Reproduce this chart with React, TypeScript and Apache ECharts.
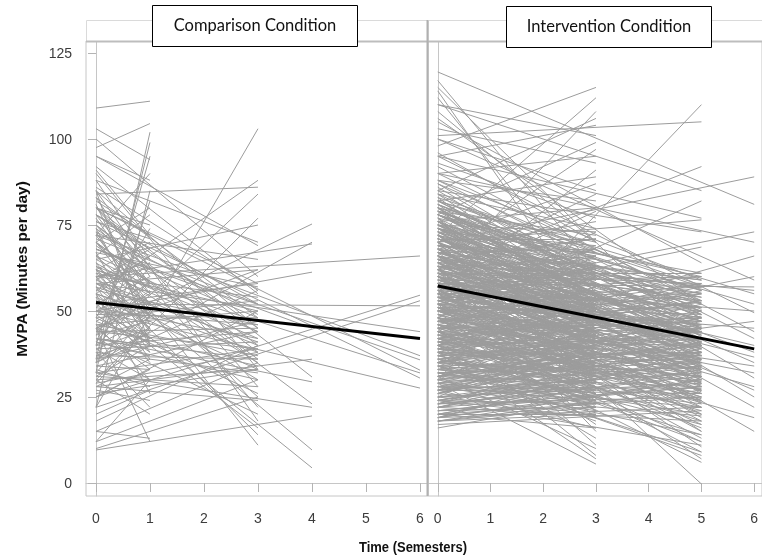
import React, { useEffect, useRef } from "react";
import * as echarts from "echarts";

// Tick labels
const xTicks = [0, 1, 2, 3, 4, 5, 6];
const yTicks = [0, 25, 50, 75, 100, 125];
const panelTitles = ["Comparison Condition", "Intervention Condition"];

// Comparison condition: [MVPA at time 0, MVPA at last time]
const compTo1: [number, number][] = [
  [109, 111], [97.5, 104.5], [103, 94], [95, 88], [91, 72], [88, 65], [83, 60], [80, 75], [78, 58], [76, 71],
  [74, 46], [72, 90], [70, 55], [68, 62], [66, 78], [64, 44], [62, 70], [60, 38], [58, 52], [56, 66],
  [54, 35], [52, 60], [50, 42], [48, 74], [46, 30], [44, 56], [42, 40], [40, 48], [38, 22], [36, 44],
  [34, 33], [32, 50], [30, 20], [28, 36], [32, 102], [36, 99], [22, 85], [15, 13], [45, 12], [40, 95],
  [35, 82], [55, 26], [12, 30], [81, 48], [85, 40], [78, 68], [72, 52], [65, 57], [60, 64], [43, 63],
  [41, 37], [39, 45], [47, 41], [53, 49], [20, 27], [25, 33], [70, 80], [62, 42], [57, 45], [50, 58],
  [75, 62], [73, 48], [69, 58], [67, 40], [63, 52], [61, 45], [59, 68], [57, 36], [55, 50], [53, 42],
  [51, 64], [49, 38], [47, 55], [45, 33], [43, 47], [41, 59], [39, 30], [37, 42], [35, 52], [33, 28],
  [31, 40], [29, 45], [27, 24], [80, 65], [82, 72], [77, 55],
];
const compTo3: [number, number][] = [
  [22, 103], [55, 88], [84, 86], [40, 84], [95, 69], [30, 77], [88, 70], [65, 75], [100, 60], [72, 65],
  [45, 62], [80, 58], [35, 56], [92, 55], [60, 54], [78, 52], [25, 50], [68, 48], [50, 46], [85, 45],
  [40, 44], [62, 42], [75, 40], [32, 39], [55, 38], [70, 36], [45, 34], [90, 33], [38, 32], [58, 30],
  [80, 28], [48, 26], [66, 25], [28, 24], [75, 22], [42, 20], [85, 18], [52, 16], [60, 14], [70, 11],
  [18, 40], [15, 35], [12, 30], [10, 25], [58, 62], [52, 58], [46, 50], [63, 44], [44, 39], [48, 53],
  [36, 47], [67, 57], [73, 49], [57, 41], [42, 36], [30, 33],
  [78, 45], [74, 38], [71, 52], [66, 44], [64, 35], [61, 50], [59, 40], [56, 46], [54, 33], [51, 42],
  [49, 48], [46, 37], [44, 45], [41, 30], [39, 41], [37, 36], [34, 44], [31, 28], [29, 38], [26, 33],
  [83, 48], [86, 56],
];
const compTo4: [number, number][] = [
  [45, 75.3], [35, 70], [60, 69.5], [50, 61.3], [80, 30.8], [42, 29.4], [70, 23], [32, 22], [9.6, 19.5],
  [62, 9.6], [55, 4.4], [28, 36], [68, 45],
];
const compTo6: [number, number][] = [
  [60, 66], [25, 54.6], [22, 53], [52, 51.5], [72, 37], [68, 35.8], [80, 32.8], [62, 32], [76, 30.5],
  [50, 27.6], [58, 44],
];

// Intervention condition: [MVPA at time 0, MVPA at last time]
const intTo3: [number, number][] = [
  [98, 115], [72, 112], [60, 108], [85, 106], [95, 104], [110, 101], [78, 99], [66, 97], [90, 95], [103, 93],
  [55, 91], [82, 89], [70, 87], [100, 85], [62, 84], [88, 82], [76, 80], [58, 79], [93, 77], [68, 76],
  [84, 74], [48, 73], [79, 72], [64, 71], [96, 70], [73, 69], [56, 68], [87, 67], [44, 66], [69, 65],
  [81, 64], [52, 63], [75, 62], [63, 61], [40, 60], [86, 59], [59, 58], [71, 57], [47, 56], [78, 55],
  [54, 54], [66, 53], [38, 52], [83, 51], [61, 50], [50, 49], [74, 48], [35, 47], [57, 46], [68, 45],
  [45, 44], [80, 43], [53, 42], [42, 41], [64, 40], [30, 39], [72, 38], [49, 37], [58, 36], [39, 35],
  [77, 34], [46, 33], [62, 32], [33, 31], [55, 30], [70, 29], [41, 28], [28, 27], [60, 26], [36, 25],
  [51, 24], [24, 23], [66, 22], [44, 21], [20, 20], [57, 19], [34, 18], [48, 17], [27, 16], [63, 15],
  [40, 13], [52, 11], [31, 10], [45, 8], [38, 7], [29, 5.5], [18, 22], [16, 24], [22, 30], [26, 35],
  [117, 62], [114, 48], [108, 70], [112, 55], [65, 51], [58, 47], [52, 43], [47, 38], [43, 34], [37, 29],
  [33, 26], [29, 23], [61, 55], [67, 59], [73, 60], [79, 63], [56, 52], [50, 45], [41, 39], [35, 33],
  [25, 28], [21, 26], [19, 32], [23, 37], [27, 42], [31, 45], [39, 50], [46, 57], [54, 63], [62, 66],
  [18, 20], [19, 25], [20, 28], [21, 22], [22, 33], [23, 27], [24, 31], [25, 20], [26, 38], [27, 30],
  [28, 24], [29, 35], [30, 29], [31, 42], [32, 26], [33, 37], [34, 30], [35, 44], [36, 28], [37, 40],
  [38, 33], [39, 46], [40, 31], [41, 36], [42, 49], [43, 34], [44, 28], [45, 41], [46, 37], [47, 52],
  [48, 39], [49, 31], [50, 44], [51, 36], [52, 55], [53, 41], [54, 47], [55, 34], [56, 43], [57, 58],
  [58, 40], [59, 50], [60, 45], [61, 35], [62, 53], [63, 48], [64, 60], [65, 42], [66, 39], [67, 55],
  [68, 50], [69, 63], [70, 46], [71, 57], [72, 43], [73, 52], [74, 66], [75, 49], [76, 59], [77, 45],
  [78, 62], [79, 54], [80, 70], [81, 50], [82, 58], [20, 16], [24, 19], [28, 21], [32, 23], [36, 25],
  [40, 27], [44, 30], [48, 32], [52, 35], [56, 37], [60, 40], [64, 42], [68, 44], [72, 47], [76, 50],
  [80, 53], [25, 45], [30, 50], [35, 54], [40, 57], [45, 60], [50, 63], [55, 66], [60, 68], [65, 71],
  [34, 22], [38, 24], [42, 26], [46, 29], [50, 33], [54, 38], [58, 42], [62, 46], [66, 48], [70, 52],
  [74, 55], [78, 57], [27, 34], [31, 38], [35, 40], [39, 43], [43, 46], [47, 49], [51, 52], [55, 56],
  [59, 61], [63, 64], [67, 68], [71, 71], [75, 73], [45, 46], [53, 51], [61, 59], [69, 67], [57, 53],
];
const intTo5: [number, number][] = [
  [30, 110], [101, 105], [62, 92], [110, 85], [48, 82], [95, 77], [70, 76.5], [85, 73], [53, 68.6], [105, 64],
  [75, 61], [58, 60], [88, 59], [42, 58], [67, 57], [80, 56], [50, 55.5], [72, 55], [63, 54], [90, 53],
  [45, 52.5], [78, 52], [56, 51], [68, 50], [84, 49], [40, 48.5], [61, 48], [74, 47], [52, 46], [66, 45.5],
  [82, 45], [47, 44], [59, 43.5], [71, 43], [36, 42], [64, 41.5], [55, 41], [77, 40], [44, 39.5], [60, 39],
  [69, 38], [50, 37.5], [38, 37], [73, 36], [57, 35.5], [46, 35], [65, 34], [32, 33.5], [54, 33], [62, 32.5],
  [42, 32], [70, 31], [49, 30.5], [58, 30], [35, 29.5], [66, 29], [44, 28.5], [53, 28], [28, 27.5], [60, 27],
  [39, 26], [48, 25], [56, 24], [33, 23], [64, 22], [42, 21], [51, 20], [26, 19.5], [58, 18], [37, 17],
  [46, 16], [67, 15], [30, 14], [54, 13], [40, 12], [62, 10.5], [48, 9], [35, 8], [58, 7], [44, 6],
  [70, -0.3], [83, 57.5], [79, 50.5], [76, 44.5], [87, 42.5], [71, 39.5], [63, 37], [68, 34.5], [59, 31.5], [52, 29],
  [61, 26.5], [45, 24.5], [55, 23.5], [50, 22], [43, 27], [38, 31], [34, 36], [31, 40], [27, 45], [24, 34],
  [22, 28], [20, 25], [18, 30], [17, 21], [19, 38], [23, 41], [29, 47], [41, 53], [37, 56], [115, 40],
  [106, 52], [81, 48], [74, 41], [65, 38], [57, 33], [51, 31], [47, 27], [41, 24], [36, 22], [32, 20],
  [18, 27], [19, 30], [20, 33], [21, 28], [22, 36], [23, 31], [24, 39], [25, 29], [26, 42], [27, 32],
  [28, 45], [29, 34], [30, 37], [31, 48], [32, 35], [33, 40], [34, 44], [35, 31], [36, 46], [37, 38],
  [38, 50], [39, 35], [40, 42], [41, 53], [42, 37], [43, 45], [44, 33], [45, 48], [46, 40], [47, 55],
  [48, 36], [49, 44], [50, 51], [51, 39], [52, 47], [53, 57], [54, 42], [55, 50], [56, 35], [57, 45],
  [58, 53], [59, 40], [60, 48], [61, 58], [62, 43], [63, 51], [64, 37], [65, 46], [66, 55], [67, 41],
  [68, 49], [69, 59], [70, 44], [71, 52], [72, 38], [73, 47], [74, 56], [75, 42], [76, 50], [77, 60],
  [78, 45], [79, 53], [80, 40], [81, 48], [82, 57], [19, 22], [23, 25], [27, 26], [31, 28], [35, 30],
  [39, 31], [43, 33], [47, 34], [51, 36], [55, 38], [59, 39], [63, 41], [67, 43], [71, 45], [75, 47],
  [79, 49], [26, 50], [33, 52], [40, 55], [47, 58], [54, 60], [61, 61], [68, 59], [22, 18], [29, 22],
  [36, 24], [43, 26], [50, 29], [57, 32], [64, 34], [71, 37], [78, 39], [30, 41], [37, 44], [44, 47],
  [51, 49], [58, 51], [65, 53], [72, 54], [79, 56], [25, 35], [32, 38], [41, 40], [48, 42], [57, 44],
  [66, 47], [74, 51], [24, 11], [38, 14], [52, 17], [60, 20], [68, 23], [76, 28], [84, 33], [34, 9],
  [46, 12], [56, 15], [62, 19], [70, 26], [42, 18], [50, 25], [62, 30], [74, 35], [28, 38], [35, 48],
];
const intTo6: [number, number][] = [
  [70, 89], [119.5, 81], [55, 73], [90, 70], [40, 66], [100, 59], [65, 56], [82, 55], [95, 49.5], [60, 36.6],
  [75, 35], [50, 32], [85, 30.5], [45, 19], [68, 15], [58, 57], [78, 52], [52, 45], [88, 42], [62, 40],
  [72, 38], [48, 34], [66, 27], [80, 25], [35, 47], [42, 60], [54, 28], [92, 44], [57, 50], [73, 22],
];

// Group mean trajectories: [time, MVPA]
const compMean: [number, number][] = [[0, 52.5], [6, 42]];
const intMean: [number, number][] = [[0, 57.3], [6, 39]];

const toLines = (pairs: [number, number][], tEnd: number) =>
  pairs.map(([a, b]) => ({ coords: [[0, a], [tEnd, b]] }));

export default function App() {
  const ref = useRef<HTMLDivElement>(null);
  useEffect(() => {
    if (!ref.current) return;
    const chart = echarts.init(ref.current, undefined, { renderer: "svg" });
    const font = "'Liberation Sans', Arial, sans-serif";
    const gray = "#9c9c9c";
    const frame = "#c6c6c6";
    const labelColor = "#3c3c3c";
    const mkX = (i: number) => ({
      type: "value" as const,
      gridIndex: i,
      min: -0.185,
      max: 6.148,
      axisLine: { show: true, lineStyle: { color: frame, width: 1 } },
      axisTick: { show: true, customValues: xTicks, length: 9, lineStyle: { color: "#b4b4b4" } },
      axisLabel: { customValues: xTicks, margin: 15, color: labelColor, fontSize: 14, fontFamily: font },
      splitLine: { show: false },
    });
    const mkY = (i: number) => ({
      type: "value" as const,
      gridIndex: i,
      min: -3.78,
      max: 128.5,
      axisLine: { show: true, lineStyle: { color: frame, width: 1 } },
      axisTick: { show: i === 0, customValues: yTicks, length: 8, lineStyle: { color: "#b4b4b4" } },
      axisLabel: { show: i === 0, customValues: yTicks, margin: 14, color: labelColor, fontSize: 14, fontFamily: font },
      splitLine: { show: false },
    });
    const lineSeries = (i: number, data: any[]) => ({
      type: "lines" as const,
      coordinateSystem: "cartesian2d",
      xAxisIndex: i,
      yAxisIndex: i,
      polyline: false,
      silent: true,
      data,
      lineStyle: { color: gray, width: 1, opacity: 1 },
      z: 2,
    });
    const titleBox = (x: number, y: number, text: string) => [
      { type: "rect", z: 100, shape: { x: x + 0.5, y: y + 0.5, width: 205, height: 41 }, style: { fill: "#fff", stroke: "#000", lineWidth: 1 } },
      { type: "text", z: 101, x: x + 103, y: y + 20, style: { text, align: "center", verticalAlign: "middle", font: "16.5px Lato, sans-serif", fill: "#111" } },
    ];
    chart.setOption({
      animation: false,
      grid: [
        { left: 86, top: 41, width: 342, height: 455, show: true, borderColor: frame, borderWidth: 1 },
        { left: 428, top: 41, width: 342, height: 455, show: true, borderColor: frame, borderWidth: 1 },
      ],
      xAxis: [mkX(0), mkX(1)],
      yAxis: [mkY(0), mkY(1)],
      series: [
        lineSeries(0, [...toLines(compTo1, 1), ...toLines(compTo3, 3), ...toLines(compTo4, 4), ...toLines(compTo6, 6)]),
        lineSeries(1, [...toLines(intTo3, 3), ...toLines(intTo5, 5), ...toLines(intTo6, 6)]),
        { type: "line", xAxisIndex: 0, yAxisIndex: 0, data: compMean, symbol: "none", lineStyle: { color: "#000", width: 3 }, z: 10, silent: true },
        { type: "line", xAxisIndex: 1, yAxisIndex: 1, data: intMean, symbol: "none", lineStyle: { color: "#000", width: 3 }, z: 10, silent: true },
      ],
      graphic: [
        { type: "rect", z: 90, shape: { x: 86.5, y: 20.5, width: 341, height: 21 }, style: { fill: "#fff", stroke: "#dadada", lineWidth: 1 } },
        { type: "rect", z: 90, shape: { x: 428.5, y: 20.5, width: 340, height: 21 }, style: { fill: "#fff", stroke: "#dadada", lineWidth: 1 } },
        { type: "line", z: 91, shape: { x1: 86, y1: 41.5, x2: 762, y2: 41.5 }, style: { stroke: "#bdbdbd", lineWidth: 2 } },
        { type: "line", z: 91, shape: { x1: 427.5, y1: 20, x2: 427.5, y2: 496 }, style: { stroke: "#b0b0b0", lineWidth: 2 } },
        ...titleBox(152, 5, panelTitles[0]),
        ...titleBox(506, 6, panelTitles[1]),
        { type: "text", z: 100, x: 21, y: 269, rotation: Math.PI / 2, style: { text: "MVPA (Minutes per day)", align: "center", verticalAlign: "middle", font: "bold 15.5px 'Liberation Sans', Arial, sans-serif", fill: "#111" } },
        { type: "text", z: 100, x: 413, y: 547, scaleY: 1.15, style: { text: "Time (Semesters)", align: "center", verticalAlign: "middle", font: "bold 13px 'Liberation Sans', Arial, sans-serif", fill: "#111" } },
      ],
    });
    return () => chart.dispose();
  }, []);
  return <div ref={ref} style={{ position: "fixed", left: 0, top: 0, width: 762, height: 556 }} />;
}
